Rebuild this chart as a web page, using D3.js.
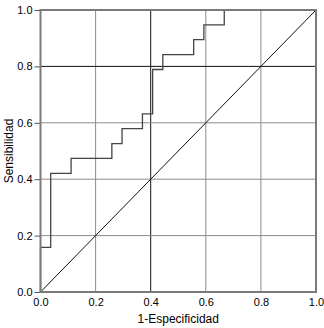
<!DOCTYPE html>
<html>
<head>
<meta charset="utf-8">
<script src="https://cdn.jsdelivr.net/npm/d3@7"></script>
<style>
  body { margin: 0; background: #fff; }
  text { font-family: "Liberation Sans", Arial, sans-serif; fill: #000; }
</style>
</head>
<body>
<svg id="chart"></svg>
<script>
// datos de la curva ROC (1-especificidad, sensibilidad)
const fpr = [0, 0, 0.037, 0.111, 0.259, 0.296, 0.370, 0.407, 0.444, 0.556, 0.593, 0.667, 1.0];
const tpr = [0, 0.158, 0.421, 0.474, 0.526, 0.579, 0.632, 0.789, 0.842, 0.895, 0.947, 1.0, 1.0];
const ticks = [0, 0.2, 0.4, 0.6, 0.8, 1.0];
const refLine = [0, 1];

const margin = {top: 10, right: 8, bottom: 36, left: 40.5},
    width = 324 - margin.left - margin.right,
    height = 328 - margin.top - margin.bottom;

const svg = d3.select("#chart")
    .attr("width", 324)
    .attr("height", 328);

const g = svg.append("g")
    .attr("transform", "translate(" + margin.left + "," + margin.top + ")");

// escalas
const x = d3.scaleLinear().domain([0, 1]).range([0, width]);
const y = d3.scaleLinear().domain([0, 1]).range([height, 0]);

// rejilla
g.selectAll(".vgrid")
    .data(ticks.slice(1, -1))
    .enter().append("line")
    .attr("x1", d => x(d)).attr("x2", d => x(d))
    .attr("y1", 0).attr("y2", height)
    .attr("stroke", d => d === 0.4 ? "#111" : "#8c8c8c")
    .attr("stroke-width", 1);

g.selectAll(".hgrid")
    .data(ticks.slice(1, -1))
    .enter().append("line")
    .attr("x1", 0).attr("x2", width)
    .attr("y1", d => y(d)).attr("y2", d => y(d))
    .attr("stroke", d => d === 0.8 ? "#111" : "#8c8c8c")
    .attr("stroke-width", 1);

// ejes
const yAxis = g.append("g")
    .call(d3.axisLeft(y).tickValues(ticks).tickFormat(d3.format(".1f")).tickSize(6).tickPadding(2));
yAxis.select(".domain").remove();
yAxis.selectAll("line").attr("stroke", "#555");
yAxis.selectAll("text").attr("font-size", 11).attr("fill", "#000")
    .style("font-family", "'Liberation Sans', Arial, sans-serif");

const xAxis = g.append("g")
    .attr("transform", "translate(0," + height + ")")
    .call(d3.axisBottom(x).tickValues(ticks).tickFormat(d3.format(".1f")).tickSize(0).tickPadding(6));
xAxis.select(".domain").remove();
xAxis.selectAll("text").attr("font-size", 11).attr("fill", "#000")
    .style("font-family", "'Liberation Sans', Arial, sans-serif");

// diagonal de referencia
g.append("line")
    .attr("x1", x(refLine[0])).attr("y1", y(refLine[0]))
    .attr("x2", x(refLine[1])).attr("y2", y(refLine[1]))
    .attr("stroke", "#111")
    .attr("stroke-width", 1);

// curva ROC
const pts = fpr.map((d, i) => [d, tpr[i]]);
g.append("path")
    .datum(pts)
    .attr("fill", "none")
    .attr("stroke", "#444")
    .attr("stroke-width", 1.3)
    .attr("d", d3.line().x(d => x(d[0])).y(d => y(d[1])).curve(d3.curveStepAfter));

// marco
g.append("rect")
    .attr("x", 0).attr("y", 0)
    .attr("width", width).attr("height", height)
    .attr("fill", "none")
    .attr("stroke", "#7a7a7a")
    .attr("stroke-width", 2);

// títulos
svg.append("text")
    .attr("x", margin.left + width / 2)
    .attr("y", 323)
    .attr("text-anchor", "middle")
    .attr("font-size", 12)
    .text("1-Especificidad");

svg.append("text")
    .attr("transform", "translate(13," + (margin.top + height / 2) + ") rotate(-90)")
    .attr("text-anchor", "middle")
    .attr("font-size", 12)
    .text("Sensibilidad");
</script>
</body>
</html>
